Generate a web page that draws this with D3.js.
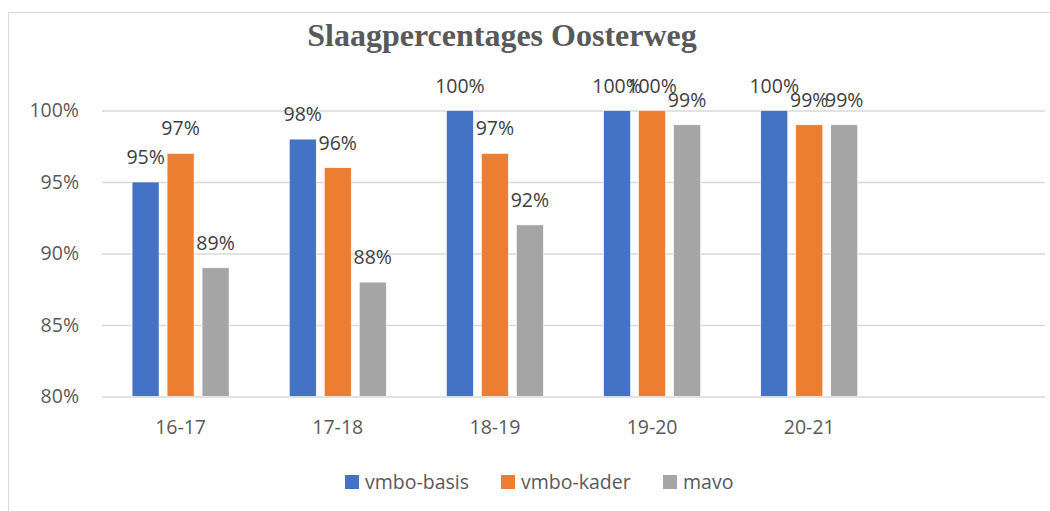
<!DOCTYPE html>
<html>
<head>
<meta charset="utf-8">
<script src="https://cdn.jsdelivr.net/npm/d3@7/dist/d3.min.js"></script>
<style>
  html, body { margin: 0; padding: 0; background: #fff; }
  svg { display: block; }
</style>
</head>
<body>
<svg id="chart" width="1050" height="511"></svg>
<script>
const title = "Slaagpercentages Oosterweg";
const categories = ["16-17", "17-18", "18-19", "19-20", "20-21", ""];
const seriesNames = ["vmbo-basis", "vmbo-kader", "mavo"];
const vmboBasis = [95, 98, 100, 100, 100];
const vmboKader = [97, 96, 97, 100, 99];
const mavo = [89, 88, 92, 99, 99];
const yTicks = [80, 85, 90, 95, 100];
const colors = ["#4472C4", "#ED7D31", "#A5A5A5"];

const seriesValues = [vmboBasis, vmboKader, mavo];
const svg = d3.select("#chart");
const font = "'Open Sans', 'Liberation Sans', sans-serif";

// chart area border
svg.append("rect")
  .attr("x", 8.5).attr("y", 12.5)
  .attr("width", 1100).attr("height", 600)
  .attr("fill", "#fff").attr("stroke", "#d9d9d9").attr("stroke-width", 1);

const plot = { left: 102, right: 1045, top: 110.5, bottom: 396.5 };

const x = d3.scaleBand().domain(categories).range([plot.left, plot.right]).paddingInner(0).paddingOuter(0);
const groupW = x.bandwidth() * 0.617;
const xs = d3.scaleBand().domain(seriesNames)
  .range([(x.bandwidth() - groupW) / 2, (x.bandwidth() + groupW) / 2])
  .paddingInner(0.229).paddingOuter(0);
const y = d3.scaleLinear().domain([80, 100]).range([plot.bottom, plot.top]);

// gridlines
const yAxis = d3.axisLeft(y).tickValues(yTicks).tickSize(-(plot.right - plot.left))
  .tickFormat(d => d + "%").tickPadding(23);
const gy = svg.append("g").attr("transform", `translate(${plot.left},0)`).call(yAxis);
gy.select(".domain").remove();
gy.selectAll(".tick line").attr("stroke", "#d9d9d9").attr("stroke-width", 1.3);
gy.selectAll(".tick text").attr("fill", "#595959").attr("font-family", font).attr("font-size", 19.5);

// x axis labels
const xAxis = d3.axisBottom(x).tickSize(0).tickPadding(24);
const gx = svg.append("g").attr("transform", `translate(0,${plot.bottom})`).call(xAxis);
gx.select(".domain").remove();
gx.selectAll(".tick text").attr("fill", "#595959").attr("font-family", font).attr("font-size", 19.5);

// bars
const data = [];
seriesNames.forEach((s, si) => {
  seriesValues[si].forEach((v, ci) => data.push({ s, si, cat: categories[ci], v }));
});

const bars = svg.append("g");
bars.selectAll("rect").data(data).join("rect")
  .attr("x", d => x(d.cat) + xs(d.s))
  .attr("width", xs.bandwidth())
  .attr("y", d => y(d.v))
  .attr("height", d => y(80) - y(d.v))
  .attr("fill", d => colors[d.si])
  .attr("stroke", "#fff").attr("stroke-width", 0.6);

// data labels
svg.append("g").selectAll("text").data(data).join("text")
  .attr("x", d => x(d.cat) + xs(d.s) + xs.bandwidth() / 2)
  .attr("y", d => y(d.v) - 18)
  .attr("text-anchor", "middle")
  .attr("fill", "#404040")
  .attr("font-family", font).attr("font-size", 19.5)
  .text(d => d.v + "%");

// title
svg.append("text")
  .attr("x", 502).attr("y", 46)
  .attr("text-anchor", "middle")
  .attr("fill", "#595959")
  .attr("font-family", "'Liberation Serif', 'DejaVu Serif', serif")
  .attr("font-weight", "bold")
  .attr("font-size", 32)
  .text(title);

// legend
const legendX = [345, 501, 663];
const lg = svg.append("g");
seriesNames.forEach((s, i) => {
  lg.append("rect").attr("x", legendX[i]).attr("y", 475).attr("width", 14).attr("height", 14).attr("fill", colors[i]);
  lg.append("text").attr("x", legendX[i] + 20).attr("y", 489)
    .attr("fill", "#595959").attr("font-family", font).attr("font-size", 19.5)
    .text(s);
});
</script>
</body>
</html>
